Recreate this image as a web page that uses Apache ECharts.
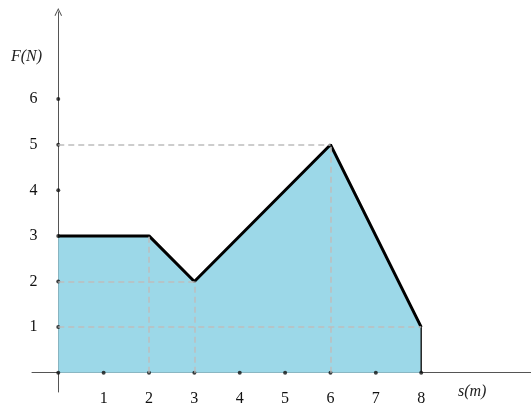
<!DOCTYPE html>
<html>
<head>
<meta charset="utf-8">
<script src="https://cdn.jsdelivr.net/npm/echarts@6/dist/echarts.min.js"></script>
<style>
  html, body { margin: 0; padding: 0; background: #fff; }
  #chart { width: 531px; height: 404px; }
</style>
</head>
<body>
<div id="chart"></div>
<script>
// force-distance polygon F(s)
const sValues = [0, 2, 3, 6, 8];
const fValues = [3, 3, 2, 5, 1];
const xTickLabels = [1, 2, 3, 4, 5, 6, 7, 8];
const yTickLabels = [1, 2, 3, 4, 5, 6];
// dashed guides: horizontal ones run from s = 0, vertical ones from F = 0
const hGuides = [[3, 2], [6, 5], [8, 1]];
const vGuides = [[2, 3], [3, 2], [6, 5]];

const serif = '"Liberation Serif", "DejaVu Serif", serif';
const axisColor = '#555';

const dashed = { color: '#bdbdbd', width: 1.5, type: [6, 4] };
const guideLines = hGuides.map(p => [{ coord: [0, p[1]] }, { coord: [p[0], p[1]] }])
  .concat(vGuides.map(p => [{ coord: [p[0], 0] }, { coord: [p[0], p[1]] }]));

const tickDots = xTickLabels.map(v => [v, 0])
  .concat(yTickLabels.map(v => [0, v]))
  .concat([[0, 0]]);

const chart = echarts.init(document.getElementById('chart'));
chart.setOption({
  animation: false,
  grid: { left: 32, right: 0, top: 12, bottom: 12, outerBoundsMode: 'none', containLabel: false },
  xAxis: {
    type: 'value',
    min: -0.579,
    max: 10.42,
    splitLine: { show: false },
    axisLine: { onZero: true, lineStyle: { color: axisColor, width: 1 } },
    axisTick: { show: false },
    axisLabel: {
      customValues: xTickLabels,
      margin: -1,
      color: '#111',
      fontFamily: serif,
      fontSize: 16
    }
  },
  yAxis: {
    type: 'value',
    min: -0.423,
    max: 7.91,
    splitLine: { show: false },
    axisLine: {
      onZero: true,
      lineStyle: { color: axisColor, width: 1 },
      symbol: ['none', 'path://M0,10 L5,0 L10,10 L8.8,10.6 L5,2.6 L1.2,10.6 Z'],
      symbolSize: [11, 8],
      symbolOffset: [0, 0]
    },
    axisTick: { show: false },
    axisLabel: {
      customValues: yTickLabels,
      margin: -5.5,
      color: '#111',
      fontFamily: serif,
      fontSize: 16
    }
  },
  graphic: [
    {
      type: 'text', left: 11, top: 49,
      style: { text: 'F(N)', font: 'italic 16px ' + serif, fill: '#222' }
    },
    {
      type: 'text', left: 458, top: 384,
      style: { text: 's(m)', font: 'italic 16px ' + serif, fill: '#222' }
    }
  ],
  series: [
    {
      type: 'line',
      data: sValues.map((s, i) => [s, fValues[i]]),
      symbol: 'none',
      lineStyle: { color: '#000', width: 3 },
      areaStyle: { color: '#9cd8e8', opacity: 1, origin: 0 },
      z: 2,
      markLine: {
        silent: true,
        symbol: 'none',
        label: { show: false },
        lineStyle: dashed,
        data: guideLines
      }
    },
    {
      // closing edge at s = 8
      type: 'line',
      data: [[sValues[4], 0], [sValues[4], fValues[4]]],
      symbol: 'none',
      lineStyle: { color: '#222', width: 1.5 },
      z: 3
    },
    {
      type: 'scatter',
      data: tickDots,
      symbolSize: 4,
      itemStyle: { color: '#111' },
      z: 4
    }
  ]
});
</script>
</body>
</html>
